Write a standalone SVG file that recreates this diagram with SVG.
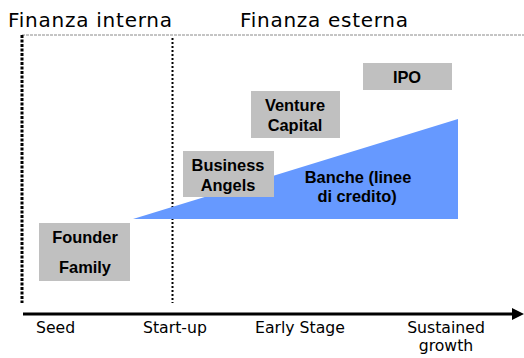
<svg xmlns="http://www.w3.org/2000/svg" width="524" height="358" viewBox="0 0 524 358">
  <style>
    .title { font-family: "DejaVu Sans", "Liberation Sans", sans-serif; font-size: 20px; fill: #000; }
    .stage { font-family: "DejaVu Sans", "Liberation Sans", sans-serif; font-size: 15.7px; fill: #000; }
    .label { font-family: "Liberation Sans", Arial, sans-serif; font-size: 16.4px; font-weight: bold; fill: #000; text-anchor: middle; }
    .box { fill: #c0c0c0; }
  </style>
  <rect width="524" height="358" fill="#ffffff"/>

  <!-- section headings -->
  <text class="title" x="8" y="26.5" textLength="164" lengthAdjust="spacing">Finanza interna</text>
  <text class="title" x="240" y="26.5" textLength="168" lengthAdjust="spacing">Finanza esterna</text>

  <!-- frame and phase separators -->
  <g id="guides">
    <line x1="22" y1="35" x2="524" y2="35" stroke="#8a8a8a" stroke-width="1" stroke-dasharray="3,1"/>
    <line x1="22" y1="35" x2="22" y2="303" stroke="#000" stroke-width="3" stroke-dasharray="3,1.5"/>
    <line x1="172.5" y1="38" x2="172.5" y2="303" stroke="#000" stroke-width="2" stroke-dasharray="2,2"/>
  </g>

  <!-- bank credit wedge -->
  <g id="banche">
    <polygon points="133,219 458,119 458,219" fill="#6699ff"/>
    <text class="label" x="358" y="183">Banche (linee</text>
    <text class="label" x="357" y="202">di credito)</text>
  </g>

  <g id="founder">
    <rect class="box" x="39" y="223" width="91" height="58"/>
    <text class="label" x="85" y="243">Founder</text>
    <text class="label" x="85" y="273">Family</text>
  </g>

  <g id="business-angels">
    <rect class="box" x="183" y="151" width="91" height="46"/>
    <text class="label" x="228" y="171">Business</text>
    <text class="label" x="228" y="191">Angels</text>
  </g>

  <g id="venture-capital">
    <rect class="box" x="251" y="91" width="89" height="47"/>
    <text class="label" x="295" y="111">Venture</text>
    <text class="label" x="295" y="131">Capital</text>
  </g>

  <g id="ipo">
    <rect class="box" x="363" y="63" width="89" height="27"/>
    <text class="label" x="407" y="83">IPO</text>
  </g>

  <!-- time axis -->
  <g id="connectors">
    <line x1="23" y1="314" x2="513" y2="314" stroke="#000" stroke-width="3"/>
    <polygon points="512,308 524,314 512,320" fill="#000"/>
  </g>

  <g id="stages">
    <text class="stage" x="36" y="333">Seed</text>
    <text class="stage" x="143" y="333">Start-up</text>
    <text class="stage" x="255" y="333">Early Stage</text>
    <text class="stage" x="446" y="333" text-anchor="middle">Sustained</text>
    <text class="stage" x="446" y="351" text-anchor="middle">growth</text>
  </g>
</svg>
